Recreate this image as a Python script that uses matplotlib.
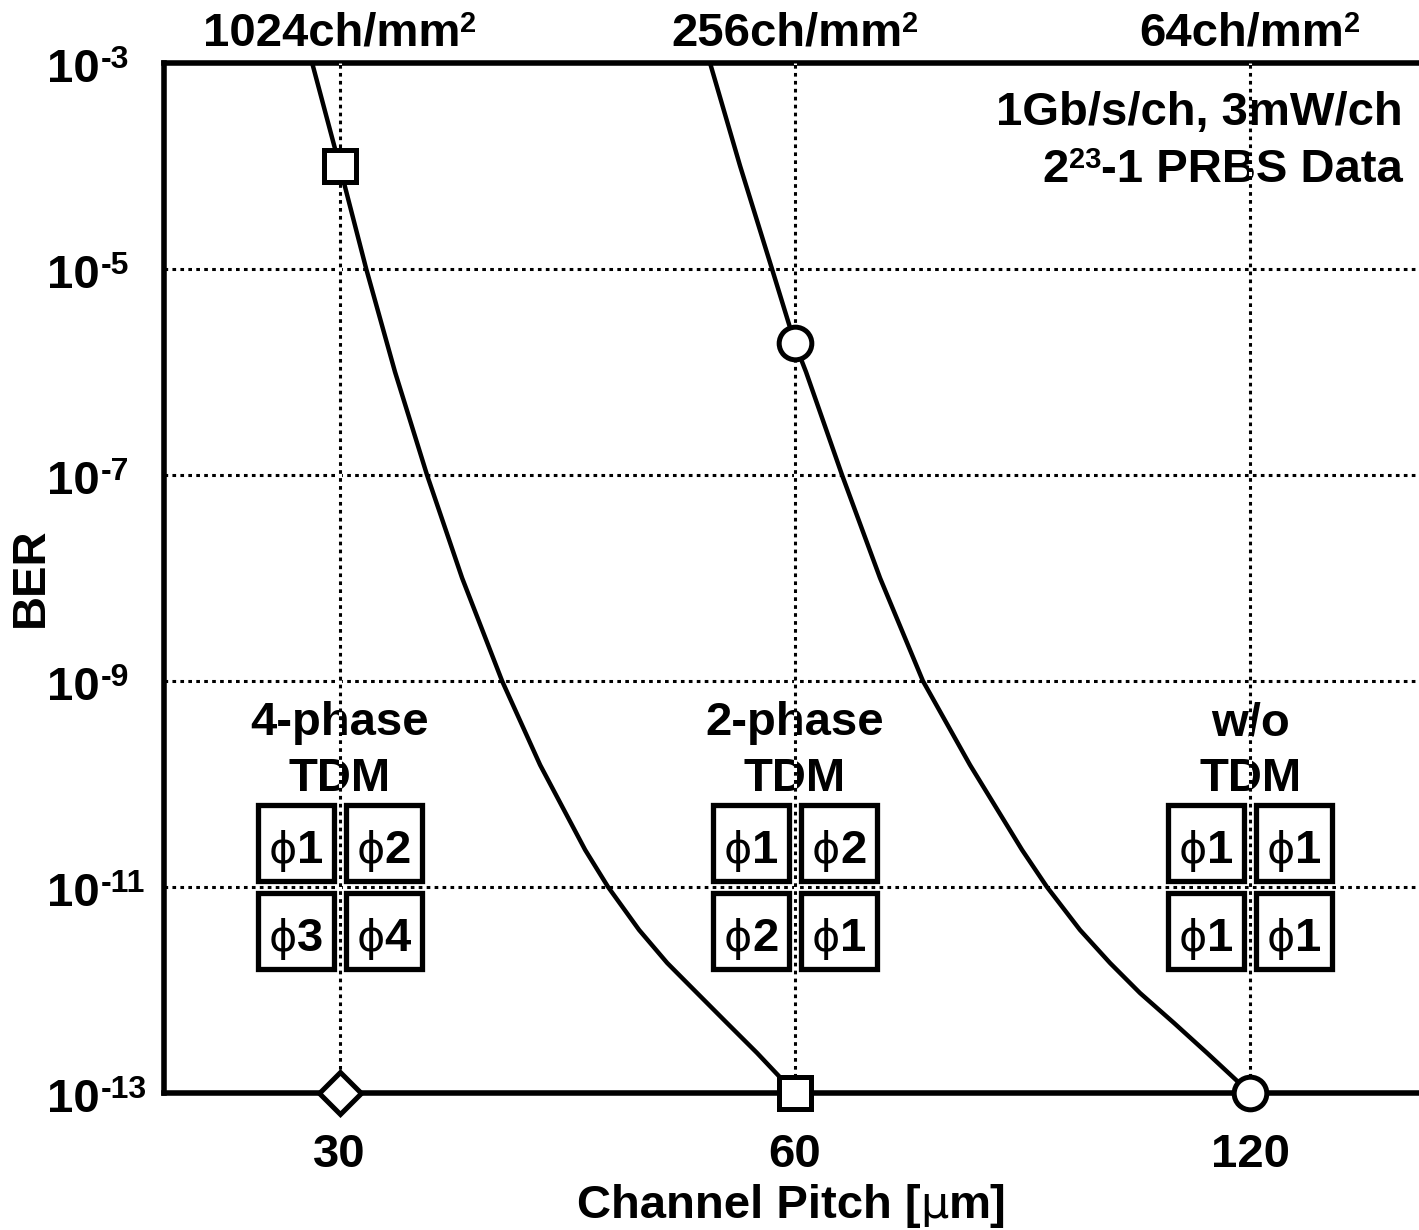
import matplotlib
matplotlib.use("Agg")
import matplotlib.pyplot as plt
from matplotlib.patches import Rectangle
from matplotlib import transforms as mtrans

W, H, DPI = 1419, 1230, 100
FONT = "Liberation Sans"
SYM = "DejaVu Sans"

# ---------------- data ----------------
pitch_ticks = [30, 60, 120]
pitch_tick_labels = ["30", "60", "120"]
density_labels = ["1024ch/mm", "256ch/mm", "64ch/mm"]
ber_ticks = [1e-3, 1e-5, 1e-7, 1e-9, 1e-11, 1e-13]
ber_tick_exps = ["-3", "-5", "-7", "-9", "-11", "-13"]

# measured points
tdm2_pitch = [30, 60]
tdm2_ber = [1e-4, 1e-13]
notdm_pitch = [60, 120]
notdm_ber = [1.9e-6, 1e-13]
tdm4_pitch = [30]
tdm4_ber = [1e-13]

# traced fit curves
fit1_pitch = [28.77, 30.0, 31.24, 32.64, 34.27, 36.15, 38.42, 40.71, 43.60, 45.15,
              47.33, 49.40, 51.70, 54.11, 56.64, 60.0]
fit1_ber = [1e-3, 1e-4, 1e-5, 1e-6, 1e-7, 1e-8, 1e-9, 1.53e-10, 2.29e-11, 1e-11,
            3.83e-12, 1.83e-12, 9.35e-13, 4.78e-13, 2.45e-13, 1e-13]
fit2_pitch = [52.73, 55.20, 57.95, 60.0, 61.03, 64.47, 68.31, 72.92, 78.34, 84.80,
              88.08, 92.62, 96.95, 101.48, 106.88, 112.38, 120.0]
fit2_ber = [1e-3, 1e-4, 1e-5, 1.9e-6, 1e-6, 1e-7, 1e-8, 1e-9, 1.53e-10, 2.29e-11,
            1e-11, 3.83e-12, 1.83e-12, 9.35e-13, 4.78e-13, 2.45e-13, 1e-13]

group_titles = [("4-phase", "TDM"), ("2-phase", "TDM"), ("w/o", "TDM")]
group_phases = [["1", "2", "3", "4"], ["1", "2", "2", "1"], ["1", "1", "1", "1"]]
group_ber = 1e-11

# ---------------- figure ----------------
fig = plt.figure(figsize=(W / DPI, H / DPI), dpi=DPI)
ax = fig.add_axes([164 / W, 1 - 1093 / H, 1 - 164 / W, (1093 - 63) / H])
ax.set_xscale("log", base=2)
ax.set_yscale("log")
ax.set_xlim(22.96, 155.2)
ax.set_ylim(1e-13, 1e-3)
ax.set_xticks([])
ax.set_yticks([])
ax.minorticks_off()
for side in ["left", "top", "bottom"]:
    ax.spines[side].set_linewidth(4.0)
ax.spines["right"].set_visible(False)

renderer = fig.canvas.get_renderer()
ident = mtrans.IdentityTransform()


def rich(x, y, parts, ha="center", zorder=3):
    """x in px, y = baseline px from top; parts: (text, size, bold, family, raise_px)"""
    objs = []
    for s, size, bold, fam, dy in parts:
        t = ax.text(0, 0, s, transform=ident, fontsize=size,
                    fontweight="bold" if bold else "normal", family=fam,
                    ha="left", va="baseline", zorder=zorder, clip_on=False)
        w = t.get_window_extent(renderer).width
        objs.append((t, w, dy))
    total = sum(o[1] for o in objs)
    x0 = x - total / 2 if ha == "center" else (x - total if ha == "right" else x)
    for t, w, dy in objs:
        t.set_position((x0, H - y + dy))
        x0 += w


def data_px(xv, yv):
    dx, dy = ax.transData.transform((xv, yv))
    return dx, H - dy


MAIN = 34
SUP = 21
TSUP = 23

# grid
dot = (0, (1.2, 1.4))
for v in ber_ticks[1:-1]:
    ax.axhline(v, color="black", lw=2.2, linestyle=dot, zorder=1.5)
for v in pitch_ticks:
    ax.axvline(v, color="black", lw=2.2, linestyle=dot, gapcolor="white", zorder=4)

# curves
ax.plot(fit1_pitch, fit1_ber, color="black", lw=3.2, zorder=3.2, solid_joinstyle="round")
ax.plot(fit2_pitch, fit2_ber, color="black", lw=3.2, zorder=3.2, solid_joinstyle="round")

# markers
mk = dict(mfc="white", mec="black", mew=3.6, linestyle="none", zorder=6, clip_on=False)
ax.plot(tdm2_pitch, tdm2_ber, marker="s", ms=23.5, **mk)
ax.plot(notdm_pitch, notdm_ber, marker="o", ms=23.5, **mk)
ax.plot(tdm4_pitch, tdm4_ber, marker="D", ms=21, **mk)

# y tick labels
for v, e in zip(ber_ticks, ber_tick_exps):
    _, py = data_px(30, v)
    rich(100, py + 19, [("10", MAIN, True, FONT, 0)], ha="right")
    rich(101, py + 19, [(e, TSUP, True, FONT, 14)], ha="left")

# x tick labels
for v, lab in zip(pitch_ticks, pitch_tick_labels):
    px, _ = data_px(v, 1e-13)
    rich(px, 1167, [(lab, MAIN, True, FONT, 0)])

# top density labels
for v, lab in zip(pitch_ticks, density_labels):
    px, _ = data_px(v, 1e-3)
    rich(px, 45, [(lab, MAIN, True, FONT, 0), ("2", SUP, True, FONT, 13)])

# axis labels
axc = (164 + W) / 2
rich(axc, 1218, [("Channel Pitch [", MAIN, True, FONT, 0), ("μ", 32, False, SYM, 0),
                 ("m]", MAIN, True, FONT, 0)])
ax.text(31, H - 577, "BER", transform=ident, rotation=90, fontsize=MAIN, fontweight="bold",
        family=FONT, ha="center", va="center", clip_on=False)

# annotation
rich(1403, 125, [("1Gb/s/ch, 3mW/ch", MAIN, True, FONT, 0)], ha="right")
rich(1403, 182, [("2", MAIN, True, FONT, 0), ("23", SUP, True, FONT, 14),
                 ("-1 PRBS Data", MAIN, True, FONT, 0)], ha="right")

# TDM groups
BOX = 76
OFF = 44
for v, (t1, t2), phases in zip(pitch_ticks, group_titles, group_phases):
    cx, cy = data_px(v, group_ber)
    rich(cx, 735, [(t1, MAIN, True, FONT, 0)])
    rich(cx, 791, [(t2, MAIN, True, FONT, 0)])
    centers = [(cx - OFF, cy - OFF), (cx + OFF, cy - OFF), (cx - OFF, cy + OFF), (cx + OFF, cy + OFF)]
    for (bx, by), ph in zip(centers, phases):
        r = Rectangle((bx - BOX / 2, H - by - BOX / 2), BOX, BOX, transform=ident,
                      facecolor="white", edgecolor="black", lw=3.8, zorder=3.5, clip_on=False)
        ax.add_artist(r)
        rich(bx, by + 20, [("ϕ", 31, False, SYM, 0), (ph, MAIN, True, FONT, 0)], zorder=3.6)

fig.savefig("out.png", dpi=DPI)
